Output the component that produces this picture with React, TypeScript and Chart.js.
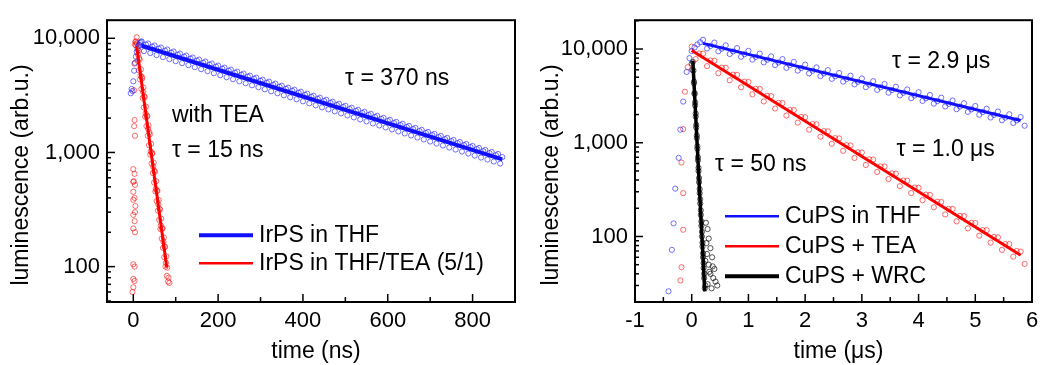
import React, { useEffect, useRef } from "react";
import { Chart, registerables } from "chart.js";
Chart.register(...registerables);

const FONT = '"Liberation Sans", Arial, Helvetica, sans-serif';

// ---------------- Left panel: IrPS ----------------
const irThfTime = [-6, -4, -2, 0, 2, 4, 6, 8, 10, 12, 14, 16, 18,
  20, 25, 30, 35, 40, 45, 50, 55, 60, 65, 70, 75, 80, 85, 90, 95, 100, 105, 110, 115, 120, 125, 130, 135,
  140, 145, 150, 155, 160, 165, 170, 175, 180, 185, 190, 195, 200, 205, 210, 215, 220, 225, 230, 235, 240, 245,
  250, 255, 260, 265, 270, 275, 280, 285, 290, 295, 300, 305, 310, 315, 320, 325, 330, 335, 340, 345, 350, 355,
  360, 365, 370, 375, 380, 385, 390, 395, 400, 405, 410, 415, 420, 425, 430, 435, 440, 445, 450, 455, 460, 465,
  470, 475, 480, 485, 490, 495, 500, 505, 510, 515, 520, 525, 530, 535, 540, 545, 550, 555, 560, 565, 570, 575,
  580, 585, 590, 595, 600, 605, 610, 615, 620, 625, 630, 635, 640, 645, 650, 655, 660, 665, 670, 675, 680, 685,
  690, 695, 700, 705, 710, 715, 720, 725, 730, 735, 740, 745, 750, 755, 760, 765, 770, 775, 780, 785, 790, 795,
  800, 805, 810, 815, 820, 825, 830, 835, 840, 845, 850, 855, 860, 865, 870];
const irThfCounts = [3300, 3600, 3450, 4200, 5200, 6100, 6900, 7600, 8100, 8500, 8800, 9100, 9300,
  9374, 7723, 8789, 9001, 7416, 8440, 8644, 7121, 8104, 8300, 6838, 7783, 7971, 6567, 7474, 7654, 6306, 7176,
  7351, 6056, 6892, 7059, 5815, 6618, 6779, 5585, 6356, 6509, 5363, 6103, 6251, 5150, 5861, 6003, 4945, 5628,
  5765, 4750, 5405, 5536, 4561, 5191, 5316, 4380, 4984, 5104, 4205, 4786, 4903, 4039, 4597, 4708, 3878, 4414,
  4521, 3725, 4239, 4341, 3577, 4071, 4169, 3435, 3909, 4004, 3298, 3754, 3844, 3167, 3605, 3692, 3042, 3462,
  3546, 2921, 3325, 3405, 2805, 3193, 3270, 2694, 3066, 3140, 2587, 2944, 3015, 2484, 2827, 2895, 2385, 2714,
  2781, 2291, 2607, 2671, 2200, 2504, 2564, 2112, 2404, 2462, 2029, 2309, 2364, 1948, 2217, 2270, 1871, 2129,
  2180, 1796, 2044, 2094, 1725, 1963, 2011, 1657, 1886, 1930, 1590, 1810, 1854, 1527, 1738, 1781, 1467, 1670,
  1710, 1409, 1604, 1642, 1352, 1539, 1577, 1299, 1479, 1514, 1247, 1420, 1454, 1198, 1363, 1396, 1150, 1309,
  1341, 1105, 1257, 1287, 1061, 1207, 1236, 1018, 1159, 1187, 978, 1113, 1140, 939, 1069, 1095, 902, 1027,
  1052, 867, 986, 1009, 832, 946, 970, 799, 910];
const irThfFitTime = [20, 870];
const irThfFitCounts = [8600, 870];

const irTeaTime = [0, 3, 0, 4, 0, 3, 0, 4, 0, 3, 0, 4, 0, 3, 0, 3, 0, -2, 3, 4, 2, 1, 5,
  2, 3, 4, 5, 6, 7,
  6, 10, 9, 13, 12, 16, 15, 19, 18, 22, 21, 25, 24, 28, 27, 31, 30, 34, 33, 37, 36, 40, 39, 43, 42, 46, 45, 49,
  48, 52, 51, 55, 54, 58, 57, 61, 60, 64, 63, 67, 66, 70, 69, 73, 72, 76, 75, 79, 78, 82,
  11, 17, 23, 29, 35, 41, 47, 53, 59, 65, 71, 77, 83,
  8, 14, 20, 26, 32, 38, 44, 50, 56, 62, 68, 74, 80, 85];
const irTeaCounts = [714, 650, 552, 520, 452, 400, 385, 300, 284, 250, 216, 200, 105, 100, 78, 75, 66, 60, 1920, 1400, 1700, 560, 340,
  3500, 6000, 8800, 9300, 8700, 9100,
  9400, 6350, 9000, 5250, 7800, 4350, 6500, 3600, 5350, 3000, 4450, 2480, 3700, 2050, 3050, 1700, 2520, 1400,
  2090, 1160, 1730, 960, 1440, 800, 1190, 660, 985, 545, 815, 455, 675, 375, 560, 310, 463, 257, 383, 213, 317,
  176, 263, 146, 217, 121, 180, 100, 148, 83, 123, 74,
  7200, 4700, 3400, 2200, 1600, 1020, 750, 480, 350, 230, 165, 108, 80,
  10200, 6700, 4600, 3100, 2050, 1500, 980, 690, 460, 320, 215, 150, 98, 72];
const irTeaFitTime = [8, 79];
const irTeaFitCounts = [8470, 98];

const leftXLabels = [0, 200, 400, 600, 800];
const leftXMinor = [100, 300, 500, 700];
const leftYLabels = [100, 1000, 10000];

// ---------------- Right panel: CuPS ----------------
const cuThfTime = [-0.41, -0.35, -0.32, -0.29, -0.23, -0.2, -0.15, -0.09, -0.04,
  0.0, 0.05, 0.1, 0.15,
  0.2, 0.27, 0.33, 0.4, 0.47, 0.53, 0.6, 0.67, 0.73, 0.8, 0.87, 0.93, 1.0, 1.07, 1.13, 1.2, 1.27, 1.33,
  1.4, 1.47, 1.53, 1.6, 1.67, 1.73, 1.8, 1.87, 1.93, 2.0, 2.07, 2.13, 2.2, 2.27, 2.33, 2.4, 2.47, 2.53,
  2.6, 2.67, 2.73, 2.8, 2.87, 2.93, 3.0, 3.07, 3.13, 3.2, 3.27, 3.33, 3.4, 3.47, 3.53, 3.6, 3.67, 3.73,
  3.8, 3.87, 3.93, 4.0, 4.07, 4.13, 4.2, 4.27, 4.33, 4.4, 4.47, 4.53, 4.6, 4.67, 4.73, 4.8, 4.87, 4.93,
  5.0, 5.07, 5.13, 5.2, 5.27, 5.33, 5.4, 5.47, 5.53, 5.6, 5.67, 5.73, 5.8, 5.87];
const cuThfCounts = [26, 72, 138, 324, 690, 1380, 2750, 5690, 8000,
  9500, 10400, 11200, 11800,
  12535, 10120, 10787, 11714, 9457, 10081, 10947, 8838, 9420, 10230, 8259, 8803, 9560, 7718, 8227, 8934, 7212, 7688,
  8349, 6741, 7185, 7802, 6299, 6714, 7291, 5886, 6274, 6814, 5501, 5863, 6368, 5141, 5480, 5950, 4804, 5121,
  5561, 4490, 4786, 5197, 4196, 4472, 4856, 3920, 4179, 4539, 3664, 3906, 4241, 3424, 3650, 3963, 3200, 3411,
  3704, 2990, 3187, 3462, 2795, 2979, 3235, 2612, 2784, 3023, 2440, 2601, 2825, 2281, 2431, 2640, 2131, 2272,
  2467, 1991, 2123, 2305, 1861, 1984, 2155, 1740, 1854, 2013, 1625, 1733, 1881, 1519];
const cuThfFitTime = [0.2, 5.8];
const cuThfFitCounts = [11500, 1726];

const cuTeaTime = [-0.2, -0.18, -0.15, -0.15, -0.18, -0.15, -0.12, -0.07,
  0.0, 0.07, 0.13, 0.2, 0.27, 0.33, 0.4, 0.47, 0.53, 0.6, 0.67, 0.73, 0.8, 0.87, 0.93, 1.0, 1.07, 1.13,
  1.2, 1.27, 1.33, 1.4, 1.47, 1.53, 1.6, 1.67, 1.73, 1.8, 1.87, 1.93, 2.0, 2.07, 2.13, 2.2, 2.27, 2.33,
  2.4, 2.47, 2.53, 2.6, 2.67, 2.73, 2.8, 2.87, 2.93, 3.0, 3.07, 3.13, 3.2, 3.27, 3.33, 3.4, 3.47, 3.53,
  3.6, 3.67, 3.73, 3.8, 3.87, 3.93, 4.0, 4.07, 4.13, 4.2, 4.27, 4.33, 4.4, 4.47, 4.53, 4.6, 4.67, 4.73,
  4.8, 4.87, 4.93, 5.0, 5.07, 5.13, 5.2, 5.27, 5.33, 5.4, 5.47, 5.53, 5.6, 5.67, 5.73, 5.8, 5.87];
const cuTeaCounts = [34, 47, 118, 290, 615, 1400, 3500, 6400,
  10604, 7808, 8965, 8916, 6565, 7538, 7497, 5520, 6338, 6303, 4641, 5329, 5300, 3903, 4481, 4456, 3281, 3767,
  3747, 2759, 3168, 3150, 2320, 2664, 2649, 1950, 2239, 2228, 1640, 1883, 1872, 1379, 1583, 1574, 1159, 1331,
  1324, 975, 1120, 1113, 820, 941, 936, 689, 791, 787, 579, 665, 662, 488, 560, 557, 410, 471,
  468, 344, 395, 394, 290, 333, 331, 244, 280, 278, 205, 235, 233, 172, 197, 197, 145, 166,
  165, 122, 140, 139, 102, 117, 117, 86, 99, 98, 72, 83, 83, 61, 70, 69, 51];
const cuTeaFitTime = [0.0, 5.8];
const cuTeaFitCounts = [9640, 63];

const cuWrcTime = [0.0, 0.01, 0.02, 0.04, 0.03, 0.05, 0.04, 0.06, 0.05, 0.07, 0.06, 0.08, 0.07, 0.09, 0.08, 0.1,
  0.09, 0.11, 0.1, 0.12, 0.11, 0.13, 0.12, 0.14, 0.13, 0.15, 0.14, 0.16, 0.15, 0.17, 0.16, 0.18, 0.17, 0.19, 0.18,
  0.2, 0.19, 0.21, 0.2, 0.22, 0.21, 0.23, 0.22, 0.24,
  0.25, 0.28, 0.3, 0.33, 0.27, 0.36, 0.3, 0.4, 0.33, 0.38, 0.42, 0.28, 0.45, 0.35, 0.26, 0.31, 0.24, 0.37];
const cuWrcCounts = [7000, 6000, 7300, 4300, 5900, 3300, 4500, 2500, 3400, 1900, 2700, 1450, 2050, 1120, 1550, 860,
  1200, 650, 920, 500, 700, 380, 540, 290, 420, 225, 320, 170, 250, 130, 190, 100, 145, 78, 112, 60, 86, 46, 66,
  36, 52, 28, 40, 30,
  140, 120, 95, 75, 65, 60, 50, 45, 40, 36, 33, 31, 30, 28, 85, 42, 55, 48];
const cuWrcFitTime = [0.02, 0.23];
const cuWrcFitCounts = [7500, 26];

const rightXLabels = [-1, 0, 1, 2, 3, 4, 5, 6];
const rightXMinor = [-0.5, 0.5, 1.5, 2.5, 3.5, 4.5, 5.5];
const rightYLabels = [100, 1000, 10000];

type Note = { text: string; x: number; y: number };
type LegendItem = { label: string; color: string; width: number };
type Decor = {
  yTitle: string; xTitle: string; yTitleX: number; yTitleCY: number; xTitleY: number;
  xMajor: number[]; xMinor: number[]; notes: Note[];
  legend: LegendItem[]; legX: number; legY: number; legDy: number;
};

function makeDecor(cfg: Decor) {
  return {
    id: "decor",
    afterDraw(chart: any) {
      const { ctx, chartArea: a, scales } = chart;
      const xs = scales.x, ys = scales.y;
      ctx.save();
      ctx.strokeStyle = "#000";
      ctx.lineWidth = 1.5;
      const seg = (x1: number, y1: number, x2: number, y2: number) => {
        ctx.beginPath(); ctx.moveTo(x1, y1); ctx.lineTo(x2, y2); ctx.stroke();
      };
      for (const v of cfg.xMajor) {
        const p = xs.getPixelForValue(v);
        if (p > a.left + 2 && p < a.right - 2) seg(p, a.bottom, p, a.bottom - 8);
      }
      for (const v of cfg.xMinor) {
        const p = xs.getPixelForValue(v);
        if (p > a.left + 2 && p < a.right - 2) seg(p, a.bottom, p, a.bottom - 5);
      }
      const lo = Math.floor(Math.log10(ys.min)), hi = Math.ceil(Math.log10(ys.max));
      for (let n = lo; n <= hi; n++) {
        for (let d = 1; d <= 9; d++) {
          const v = d * Math.pow(10, n);
          if (v <= ys.min || v >= ys.max) continue;
          const p = ys.getPixelForValue(v);
          seg(a.left, p, a.left + (d === 1 ? 8 : 4), p);
        }
      }
      ctx.lineWidth = 2;
      ctx.strokeRect(a.left, a.top, a.right - a.left, a.bottom - a.top);

      ctx.fillStyle = "#000";
      ctx.font = `23px ${FONT}`;
      ctx.textAlign = "left";
      ctx.textBaseline = "middle";
      for (const n of cfg.notes) ctx.fillText(n.text, xs.getPixelForValue(n.x), ys.getPixelForValue(n.y));

      cfg.legend.forEach((it, i) => {
        const y = a.top + cfg.legY + i * cfg.legDy;
        ctx.strokeStyle = it.color;
        ctx.lineWidth = it.width;
        seg(a.left + cfg.legX, y, a.left + cfg.legX + 54, y);
        ctx.fillText(it.label, a.left + cfg.legX + 60, y);
      });

      ctx.save();
      ctx.translate(cfg.yTitleX, cfg.yTitleCY);
      ctx.rotate(-Math.PI / 2);
      ctx.textAlign = "center";
      ctx.fillText(cfg.yTitle, 0, 0);
      ctx.restore();
      ctx.textAlign = "center";
      ctx.fillText(cfg.xTitle, (a.left + a.right) / 2 + 5, cfg.xTitleY);
      ctx.restore();
    },
  };
}

const pts = (xs: number[], ys: number[]) => xs.map((x, i) => ({ x, y: ys[i] }));

function scatterSet(label: string, xs: number[], ys: number[], color: string) {
  return {
    label, data: pts(xs, ys), showLine: false, order: 2,
    pointStyle: "circle", pointRadius: 2.6, pointBorderWidth: 0.9,
    pointBackgroundColor: "rgba(0,0,0,0)", pointBorderColor: color,
  };
}
function fitSet(label: string, xs: number[], ys: number[], color: string, w: number) {
  return {
    label, data: pts(xs, ys), showLine: true, order: 0, pointRadius: 0,
    borderColor: color, borderWidth: w, fill: false,
  };
}

function buildConfig(p: {
  xmin: number; xmax: number; ymin: number; ymax: number; xLabels: number[]; yLabels: number[];
  yWidth: number; rightPad: number; datasets: any[]; decor: Decor;
}) {
  const tickFont = { family: FONT, size: 22 };
  return {
    type: "scatter",
    data: { datasets: p.datasets },
    options: {
      responsive: false,
      animation: false,
      layout: { padding: { top: 15, right: p.rightPad, left: 0, bottom: 0 } },
      plugins: { legend: { display: false }, tooltip: { enabled: false } },
      scales: {
        x: {
          type: "linear", min: p.xmin, max: p.xmax,
          grid: { display: false, drawTicks: false }, border: { display: false },
          ticks: {
            autoSkip: false, maxRotation: 0, color: "#000", font: tickFont, padding: 6,
            callback: (v: number) => String(v),
          },
          afterBuildTicks: (s: any) => { s.ticks = p.xLabels.map((v) => ({ value: v })); },
          afterFit: (s: any) => { s.height = 63; },
        },
        y: {
          type: "logarithmic", min: p.ymin, max: p.ymax,
          grid: { display: false, drawTicks: false }, border: { display: false },
          ticks: {
            autoSkip: false, color: "#000", font: tickFont, padding: 7,
            callback: (v: number) => Math.round(v).toLocaleString("en-US"),
          },
          afterBuildTicks: (s: any) => { s.ticks = p.yLabels.map((v) => ({ value: v, major: true })); },
          afterFit: (s: any) => { s.width = p.yWidth; },
        },
      },
    },
    plugins: [makeDecor(p.decor)],
  };
}

function Panel({ width, config }: { width: number; config: any }) {
  const ref = useRef<HTMLCanvasElement>(null);
  useEffect(() => {
    const chart = new Chart(ref.current as HTMLCanvasElement, config);
    return () => chart.destroy();
  }, []);
  return <canvas ref={ref} width={width} height={365} style={{ width, height: 365, display: "block" }} />;
}

const BLUE = "#1010ff";
const RED = "#ff0000";
const BLUE_PT = "rgba(30,30,255,0.7)";
const RED_PT = "rgba(255,20,20,0.7)";
const BLACK_PT = "rgba(0,0,0,0.75)";

const leftConfig = buildConfig({
  xmin: -62, xmax: 900, ymin: 49, ymax: 14400, xLabels: leftXLabels, yLabels: leftYLabels,
  yWidth: 107, rightPad: 5,
  datasets: [
    fitSet("IrPS in THF fit", irThfFitTime, irThfFitCounts, BLUE, 4),
    fitSet("IrPS in THF/TEA fit", irTeaFitTime, irTeaFitCounts, RED, 3),
    scatterSet("IrPS in THF", irThfTime, irThfCounts, BLUE_PT),
    scatterSet("IrPS in THF/TEA (5/1)", irTeaTime, irTeaCounts, RED_PT),
  ],
  decor: {
    yTitle: "luminescence (arb.u.)", xTitle: "time (ns)", yTitleX: 22, yTitleCY: 175, xTitleY: 352,
    xMajor: leftXLabels, xMinor: leftXMinor,
    notes: [
      { text: "τ = 370 ns", x: 499, y: 4470 },
      { text: "with TEA", x: 91, y: 2100 },
      { text: "τ = 15 ns", x: 91, y: 1030 },
    ],
    legend: [
      { label: "IrPS in THF", color: BLUE, width: 4 },
      { label: "IrPS in THF/TEA (5/1)", color: RED, width: 2.5 },
    ],
    legX: 92, legY: 215, legDy: 28,
  },
});

const rightConfig = buildConfig({
  xmin: -1, xmax: 6, ymin: 20, ymax: 20300, xLabels: rightXLabels, yLabels: rightYLabels,
  yWidth: 115, rightPad: 19,
  datasets: [
    fitSet("CuPS in THF fit", cuThfFitTime, cuThfFitCounts, BLUE, 3),
    fitSet("CuPS + TEA fit", cuTeaFitTime, cuTeaFitCounts, RED, 3),
    fitSet("CuPS + WRC fit", cuWrcFitTime, cuWrcFitCounts, "#000", 3.5),
    scatterSet("CuPS in THF", cuThfTime, cuThfCounts, BLUE_PT),
    scatterSet("CuPS + TEA", cuTeaTime, cuTeaCounts, RED_PT),
    scatterSet("CuPS + WRC", cuWrcTime, cuWrcCounts, BLACK_PT),
  ],
  decor: {
    yTitle: "luminescence (arb.u.)", xTitle: "time (μs)", yTitleX: 32, yTitleCY: 175, xTitleY: 352,
    xMajor: rightXLabels, xMinor: rightXMinor,
    notes: [
      { text: "τ = 2.9 μs", x: 3.53, y: 7300 },
      { text: "τ = 1.0 μs", x: 3.61, y: 843 },
      { text: "τ = 50 ns", x: 0.41, y: 587 },
    ],
    legend: [
      { label: "CuPS in THF", color: BLUE, width: 2.5 },
      { label: "CuPS + TEA", color: RED, width: 2.5 },
      { label: "CuPS + WRC", color: "#000", width: 4 },
    ],
    legX: 90, legY: 196, legDy: 30,
  },
});

export default function App() {
  return (
    <div style={{ position: "absolute", left: 0, top: 0, width: 1051, height: 365, display: "flex", background: "#fff" }}>
      <Panel width={520} config={leftConfig} />
      <Panel width={531} config={rightConfig} />
    </div>
  );
}
